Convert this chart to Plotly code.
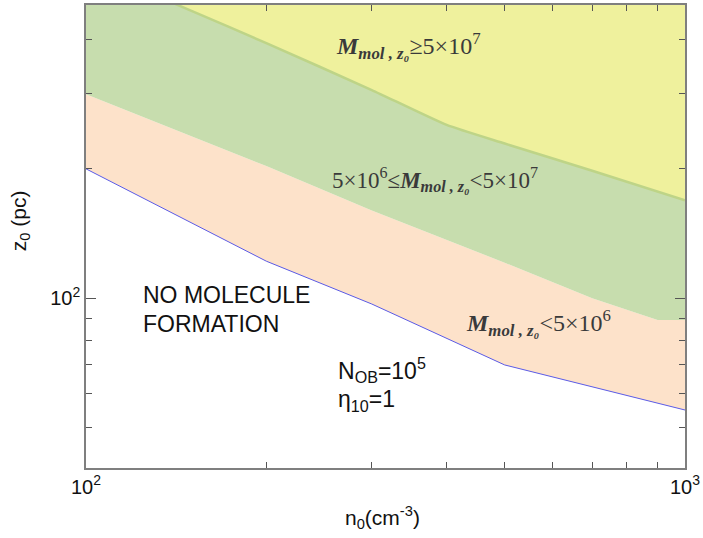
import plotly.graph_objects as go

# ---- data (n0 in cm^-3, z0 in pc) ----
# lower boundary of molecule formation (blue line)
n_lower = [100, 200, 300, 500, 1000]
z_lower = [200, 122, 97, 70, 55]

# boundary M_mol,z0 = 5e6 (peach / green)
n_mid = [100, 200, 300, 500, 700, 900, 1000]
z_mid = [298, 203, 160, 121, 100, 89, 89]

# boundary M_mol,z0 = 5e7 (green / yellow)
n_upper = [100, 150, 200, 300, 400, 500, 700, 1000]
z_upper = [593, 466, 392, 305, 253, 229, 198, 169]

# top of the yellow band (beyond the visible axis range)
n_top = [100, 1000]
z_top = [2000, 2000]

x_ticks = [100, 1000]
x_ticktext = ["10<sup>2</sup>", "10<sup>3</sup>"]
x_minor = [200, 300, 400, 500, 600, 700, 800, 900]
y_ticks = [100]
y_ticktext = ["10<sup>2</sup>"]
y_minor = [50, 60, 70, 80, 90, 200, 300, 400]

C_PEACH = "#FDE2CA"
C_GREEN = "#C7DDAE"
C_YELLOW = "#EFF19D"
C_EDGE = "#BED487"
C_BLUE = "#5A5AE6"

fig = go.Figure()
fig.add_trace(go.Scatter(x=n_lower, y=z_lower, mode="lines",
                         line=dict(color=C_BLUE, width=1), showlegend=False))
fig.add_trace(go.Scatter(x=n_mid, y=z_mid, mode="lines", fill="tonexty",
                         fillcolor=C_PEACH, line=dict(width=0, color=C_PEACH),
                         showlegend=False))
fig.add_trace(go.Scatter(x=n_upper, y=z_upper, mode="lines", fill="tonexty",
                         fillcolor=C_GREEN,
                         line=dict(width=2.5, color=C_EDGE, shape="spline", smoothing=0.5),
                         showlegend=False))
fig.add_trace(go.Scatter(x=n_top, y=z_top, mode="lines", fill="tonexty",
                         fillcolor=C_YELLOW, line=dict(width=0, color=C_YELLOW),
                         showlegend=False))

axis_common = dict(
    type="log", showgrid=False, zeroline=False, showline=True,
    linecolor="#7f7f7f", linewidth=1.5, mirror="allticks",
    ticks="inside", ticklen=10, tickwidth=1, tickcolor="#555555",
    tickfont=dict(family="Liberation Sans, Arial, sans-serif", size=20, color="#111111"),
)

fig.update_xaxes(range=[2, 3], tickvals=x_ticks, ticktext=x_ticktext,
                 minor=dict(tickvals=x_minor, ticks="inside", ticklen=6,
                            tickcolor="#555555", tickwidth=1),
                 **axis_common)
fig.update_yaxes(range=[1.6055, 2.682], tickvals=y_ticks, ticktext=y_ticktext,
                 minor=dict(tickvals=y_minor, ticks="inside", ticklen=6,
                            tickcolor="#555555", tickwidth=1),
                 **axis_common)

L, R, T, B = 86, 17, 3, 70
W, H = 703, 538
PW, PH = W - L - R, H - T - B


def px(xp, yp):
    return (xp - L) / PW, (H - B - yp) / PH


SANS = "Liberation Sans, Arial, sans-serif"
SERIF = "Liberation Serif, Times New Roman, serif"
ann = []


def add(text, xp, yp, family, size, color="#111111", xanchor="left", angle=0):
    x, y = px(xp, yp)
    ann.append(dict(text=text, x=x, y=y, xref="paper", yref="paper",
                    xanchor=xanchor, yanchor="middle", showarrow=False,
                    textangle=angle, font=dict(family=family, size=size, color=color)))


MSYM = "<b><i>M</i></b><sub><b><i>mol , z₀</i></b></sub>"
add(MSYM + "≥5×10<sup>7</sup>", 334, 44, SERIF, 24, "#3a3a3a")
add("5×10<sup>6</sup>≤" + MSYM + "<5×10<sup>7</sup>", 330, 178, SERIF, 23, "#3a3a3a")
add(MSYM + "<5×10<sup>6</sup>", 465, 322, SERIF, 24, "#3a3a3a")
add("NO MOLECULE", 141, 294, SANS, 23)
add("FORMATION", 141, 323, SANS, 23)
add("N<sub>OB</sub>=10<sup>5</sup>", 336, 370, SANS, 23)
add("η<sub>10</sub>=1", 336, 400, SANS, 23)
add("z<sub>0</sub> (pc)", 20, 220, SANS, 21, angle=-90, xanchor="center")
add("n<sub>0</sub>(cm<sup>-3</sup>)", 383, 518, SANS, 21, xanchor="center")

fig.update_layout(
    width=W, height=H,
    margin=dict(l=L, r=R, t=T, b=B, pad=0),
    paper_bgcolor="white", plot_bgcolor="white",
    annotations=ann, showlegend=False,
)

fig.write_html("out.html", config={"displayModeBar": False},
               post_script="document.body.style.margin='0px';document.body.style.overflow='hidden';")
